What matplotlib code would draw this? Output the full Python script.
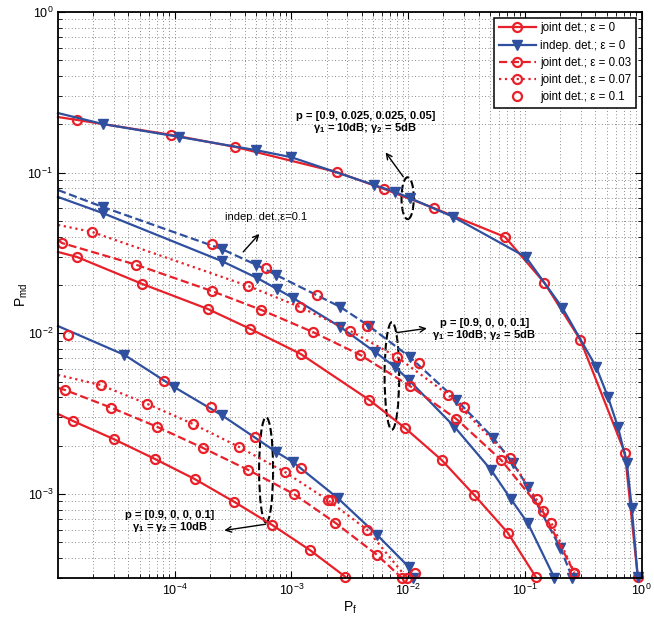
import numpy as np
import matplotlib
matplotlib.use("Agg")
import matplotlib.pyplot as plt
from matplotlib.patches import Ellipse
from matplotlib.ticker import LogLocator, NullFormatter

plt.rcParams['font.family'] = ['Liberation Sans', 'DejaVu Sans']
plt.rcParams['mathtext.fontset'] = 'custom'
plt.rcParams['mathtext.rm'] = 'Liberation Sans'
plt.rcParams['mathtext.bf'] = 'Liberation Sans:bold'

RED = '#e8202a'
BLUE = '#2f4f9f'

# ---- data (Pf, Pmd) ----
# p = [0.9, 0.025, 0.025, 0.05], gamma1 = 10dB, gamma2 = 5dB
ind_a_x = [1e-5, 2.41e-5, 1.09e-4, 4.99e-4, 9.9e-4, 5.1e-3, 7.7e-3, 0.0103, 0.0244, 0.1016, 0.2095, 0.407, 0.514, 0.625, 0.746, 0.822, 0.925]
ind_a_y = [0.235, 0.201, 0.167, 0.138, 0.125, 0.0838, 0.0759, 0.0696, 0.053, 0.0299, 0.0144, 0.00618, 0.00402, 0.00262, 0.00156, 8.2e-4, 3.05e-4]
joint_a_x = [1e-5, 1.45e-5, 9.3e-5, 3.31e-4, 2.43e-3, 6.2e-3, 0.0165, 0.0675, 0.147, 0.298, 0.718, 0.925]
joint_a_y = [0.222, 0.213, 0.172, 0.1445, 0.101, 0.0792, 0.0603, 0.0398, 0.0206, 0.0091, 0.0018, 3.05e-4]

# p = [0.9, 0, 0, 0.1], gamma1 = 10dB, gamma2 = 5dB
ind_b_x = [1e-5, 2.41e-5, 2.52e-4, 5.08e-4, 7.5e-4, 1.03e-3, 2.62e-3, 5.2e-3, 7.7e-3, 0.0101, 0.0249, 0.0513, 0.0757, 0.1056, 0.179]
ind_b_y = [0.0706, 0.0561, 0.0282, 0.0221, 0.0189, 0.0166, 0.01096, 7.65e-3, 6.18e-3, 5.13e-3, 2.62e-3, 1.41e-3, 9.3e-4, 6.6e-4, 3.0e-4]
ind_b_eps_x = [1e-5, 2.41e-5, 2.52e-4, 4.99e-4, 7.38e-4, 2.62e-3, 4.62e-3, 0.0103, 0.0259, 0.0533, 0.0788, 0.1056, 0.201, 0.255]
ind_b_eps_y = [0.078, 0.0612, 0.0335, 0.0267, 0.0231, 0.0146, 0.0111, 7.13e-3, 3.85e-3, 2.24e-3, 1.56e-3, 1.11e-3, 4.62e-4, 3.0e-4]
joint_b0_x = [1e-5, 1.45e-5, 5.27e-5, 1.91e-4, 4.44e-4, 1.2e-3, 4.64e-3, 9.36e-3, 0.0193, 0.0367, 0.0714, 0.1236]
joint_b0_y = [0.0321, 0.0299, 0.0203, 0.0142, 0.01065, 7.44e-3, 3.85e-3, 2.58e-3, 1.63e-3, 9.87e-4, 5.73e-4, 3.05e-4]
joint_b3_x = [1e-5, 1.08e-5, 4.69e-5, 2.07e-4, 5.5e-4, 1.52e-3, 3.88e-3, 0.0103, 0.0259, 0.0624, 0.1416, 0.265]
joint_b3_y = [0.0381, 0.0365, 0.0267, 0.01836, 0.014, 0.0102, 7.34e-3, 4.71e-3, 2.93e-3, 1.63e-3, 7.85e-4, 3.23e-4]
joint_b7_x = [1e-5, 1.95e-5, 4.27e-4, 1.18e-3, 3.19e-3, 8.0e-3, 0.0221, 0.0743, 0.1687, 0.265]
joint_b7_y = [0.0473, 0.0428, 0.0197, 0.0146, 0.01035, 7.13e-3, 4.14e-3, 1.68e-3, 6.6e-4, 3.23e-4]
joint_b10_x = [2.07e-4, 6.07e-4, 1.67e-3, 4.46e-3, 0.0123, 0.0302, 0.126, 0.265]
joint_b10_y = [0.036, 0.0255, 0.0173, 0.0111, 6.55e-3, 3.48e-3, 9.3e-4, 3.23e-4]

# p = [0.9, 0, 0, 0.1], gamma1 = gamma2 = 10dB
ind_c_x = [1e-5, 3.71e-5, 9.84e-5, 2.52e-4, 7.38e-4, 1.03e-3, 2.48e-3, 5.4e-3, 0.0101, 0.0109]
ind_c_y = [0.0111, 7.34e-3, 4.64e-3, 3.1e-3, 1.83e-3, 1.58e-3, 9.46e-4, 5.57e-4, 3.52e-4, 3.0e-4]
joint_c0_x = [1e-5, 1.34e-5, 2.99e-5, 6.79e-5, 1.48e-4, 3.24e-4, 6.82e-4, 1.43e-3, 2.9e-3]
joint_c0_y = [3.15e-3, 2.85e-3, 2.2e-3, 1.65e-3, 1.24e-3, 8.93e-4, 6.42e-4, 4.49e-4, 3.05e-4]
joint_c3_x = [1e-5, 1.15e-5, 2.87e-5, 7.06e-5, 1.73e-4, 4.27e-4, 1.05e-3, 2.38e-3, 5.4e-3, 8.83e-3]
joint_c3_y = [4.57e-3, 4.44e-3, 3.44e-3, 2.62e-3, 1.94e-3, 1.41e-3, 1.0e-3, 6.61e-4, 4.18e-4, 3.0e-4]
joint_c7_x = [1e-5, 2.32e-5, 5.81e-5, 1.43e-4, 3.57e-4, 8.78e-4, 2.04e-3, 4.46e-3, 9.73e-3]
joint_c7_y = [5.51e-3, 4.77e-3, 3.64e-3, 2.73e-3, 1.96e-3, 1.37e-3, 9.19e-4, 5.98e-4, 3.0e-4]
joint_c10_x = [1.22e-5, 8.09e-5, 2.03e-4, 4.89e-4, 1.2e-3, 2.16e-3, 0.01137]
joint_c10_y = [9.77e-3, 5.06e-3, 3.48e-3, 2.27e-3, 1.45e-3, 9.2e-4, 3.23e-4]

fig = plt.figure(figsize=(6.54, 6.19), dpi=100)
ax = fig.add_axes([0.0887, 0.0662, 0.8925, 0.9144])

circ = dict(marker='o', markersize=6.5, markerfacecolor='none', markeredgewidth=1.6)
tri = dict(marker='v', markersize=7, markerfacecolor=BLUE, markeredgecolor=BLUE)


def curve(x, y, color, ls, mk, first_marker=False, label=None):
    start = 0 if first_marker else 1
    ax.plot(x, y, color=color, linestyle=ls, linewidth=1.6, markevery=slice(start, None),
            clip_on=False, label=label, **mk)


curve(joint_a_x, joint_a_y, RED, '-', circ, label='joint det.; ε = 0')
curve(ind_a_x, ind_a_y, BLUE, '-', tri, label='indep. det.; ε = 0')

curve(ind_b_x, ind_b_y, BLUE, '-', tri)
curve(ind_b_eps_x, ind_b_eps_y, BLUE, '--', tri)
curve(joint_b0_x, joint_b0_y, RED, '-', circ)
curve(joint_b3_x, joint_b3_y, RED, '--', circ, label='joint det.; ε = 0.03')
curve(joint_b7_x, joint_b7_y, RED, ':', circ, label='joint det.; ε = 0.07')
curve(joint_b10_x, joint_b10_y, RED, 'none', circ, first_marker=True, label='joint det.; ε = 0.1')

curve(ind_c_x, ind_c_y, BLUE, '-', tri)
curve(joint_c0_x, joint_c0_y, RED, '-', circ)
curve(joint_c3_x, joint_c3_y, RED, '--', circ)
curve(joint_c7_x, joint_c7_y, RED, ':', circ)
curve(joint_c10_x, joint_c10_y, RED, 'none', circ, first_marker=True)

ax.set_xscale('log')
ax.set_yscale('log')
ax.set_xlim(1e-5, 1)
ax.set_ylim(3e-4, 1)
ax.set_xticks([1e-4, 1e-3, 1e-2, 1e-1, 1])
ax.set_yticks([1e-3, 1e-2, 1e-1, 1])
ax.xaxis.set_minor_locator(LogLocator(subs=np.arange(2, 10), numticks=20))
ax.yaxis.set_minor_locator(LogLocator(subs=np.arange(2, 10), numticks=20))
ax.xaxis.set_minor_formatter(NullFormatter())
ax.yaxis.set_minor_formatter(NullFormatter())
ax.tick_params(which='both', direction='in', top=True, right=True, labelsize=9)
ax.tick_params(which='major', length=5)
ax.tick_params(which='minor', length=3)
ax.grid(True, which='both', linestyle=(0, (1, 3)), color='#666666', linewidth=0.6)
for s in ax.spines.values():
    s.set_linewidth(1.3)

ax.set_xlabel(r'P$_\mathregular{f}$', fontsize=10, labelpad=1)
ax.set_ylabel(r'P$_\mathregular{md}$', fontsize=10, labelpad=-2)

leg = ax.legend(loc='upper right', fontsize=8.3, numpoints=1, handlelength=3.2,
                fancybox=False, framealpha=1, edgecolor='k', borderaxespad=0.5,
                labelspacing=0.45, handletextpad=0.4)
leg.get_frame().set_linewidth(1.1)

# annotations
arr = dict(arrowstyle='->', color='k', lw=1.0)
ax.annotate('', xy=(6.2e-3, 0.138), xytext=(9.36e-3, 0.0914), arrowprops=arr)
ax.text(4.28e-3, 0.204, 'p = [0.9, 0.025, 0.025, 0.05]\nγ$_\\mathbf{1}$ = 10dB; γ$_\\mathbf{2}$ = 5dB',
        ha='center', va='center', fontsize=8, fontweight='bold', multialignment='center', linespacing=1.0)

ax.annotate('', xy=(5.5e-4, 0.0428), xytext=(3.72e-4, 0.0312), arrowprops=arr)
ax.text(2.72e-4, 0.053, 'indep. det.;ε=0.1', ha='left', va='center', fontsize=8)

ax.annotate('', xy=(0.01524, 0.0108), xytext=(7.55e-3, 0.01005), arrowprops=arr)
ax.text(0.0447, 0.0105, 'p = [0.9, 0, 0, 0.1]\nγ$_\\mathbf{1}$ = 10dB; γ$_\\mathbf{2}$ = 5dB',
        ha='center', va='center', fontsize=8, fontweight='bold', multialignment='center', linespacing=1.0)

ax.annotate('', xy=(2.52e-4, 5.9e-4), xytext=(6.31e-4, 6.52e-4), arrowprops=arr)
ax.text(9.1e-5, 6.7e-4, 'p = [0.9, 0, 0, 0.1]\nγ$_\\mathbf{1}$ = γ$_\\mathbf{2}$ = 10dB',
        ha='center', va='center', fontsize=8, fontweight='bold', multialignment='center', linespacing=1.0)

for cx, cy, w, h in [(0.599, 0.671, 0.021, 0.074), (0.572, 0.357, 0.025, 0.19), (0.3565, 0.191, 0.024, 0.186)]:
    ax.add_patch(Ellipse((cx, cy), w, h, transform=ax.transAxes, fill=False,
                         edgecolor='k', linestyle='--', linewidth=1.5))

fig.savefig('out.png', dpi=100)
